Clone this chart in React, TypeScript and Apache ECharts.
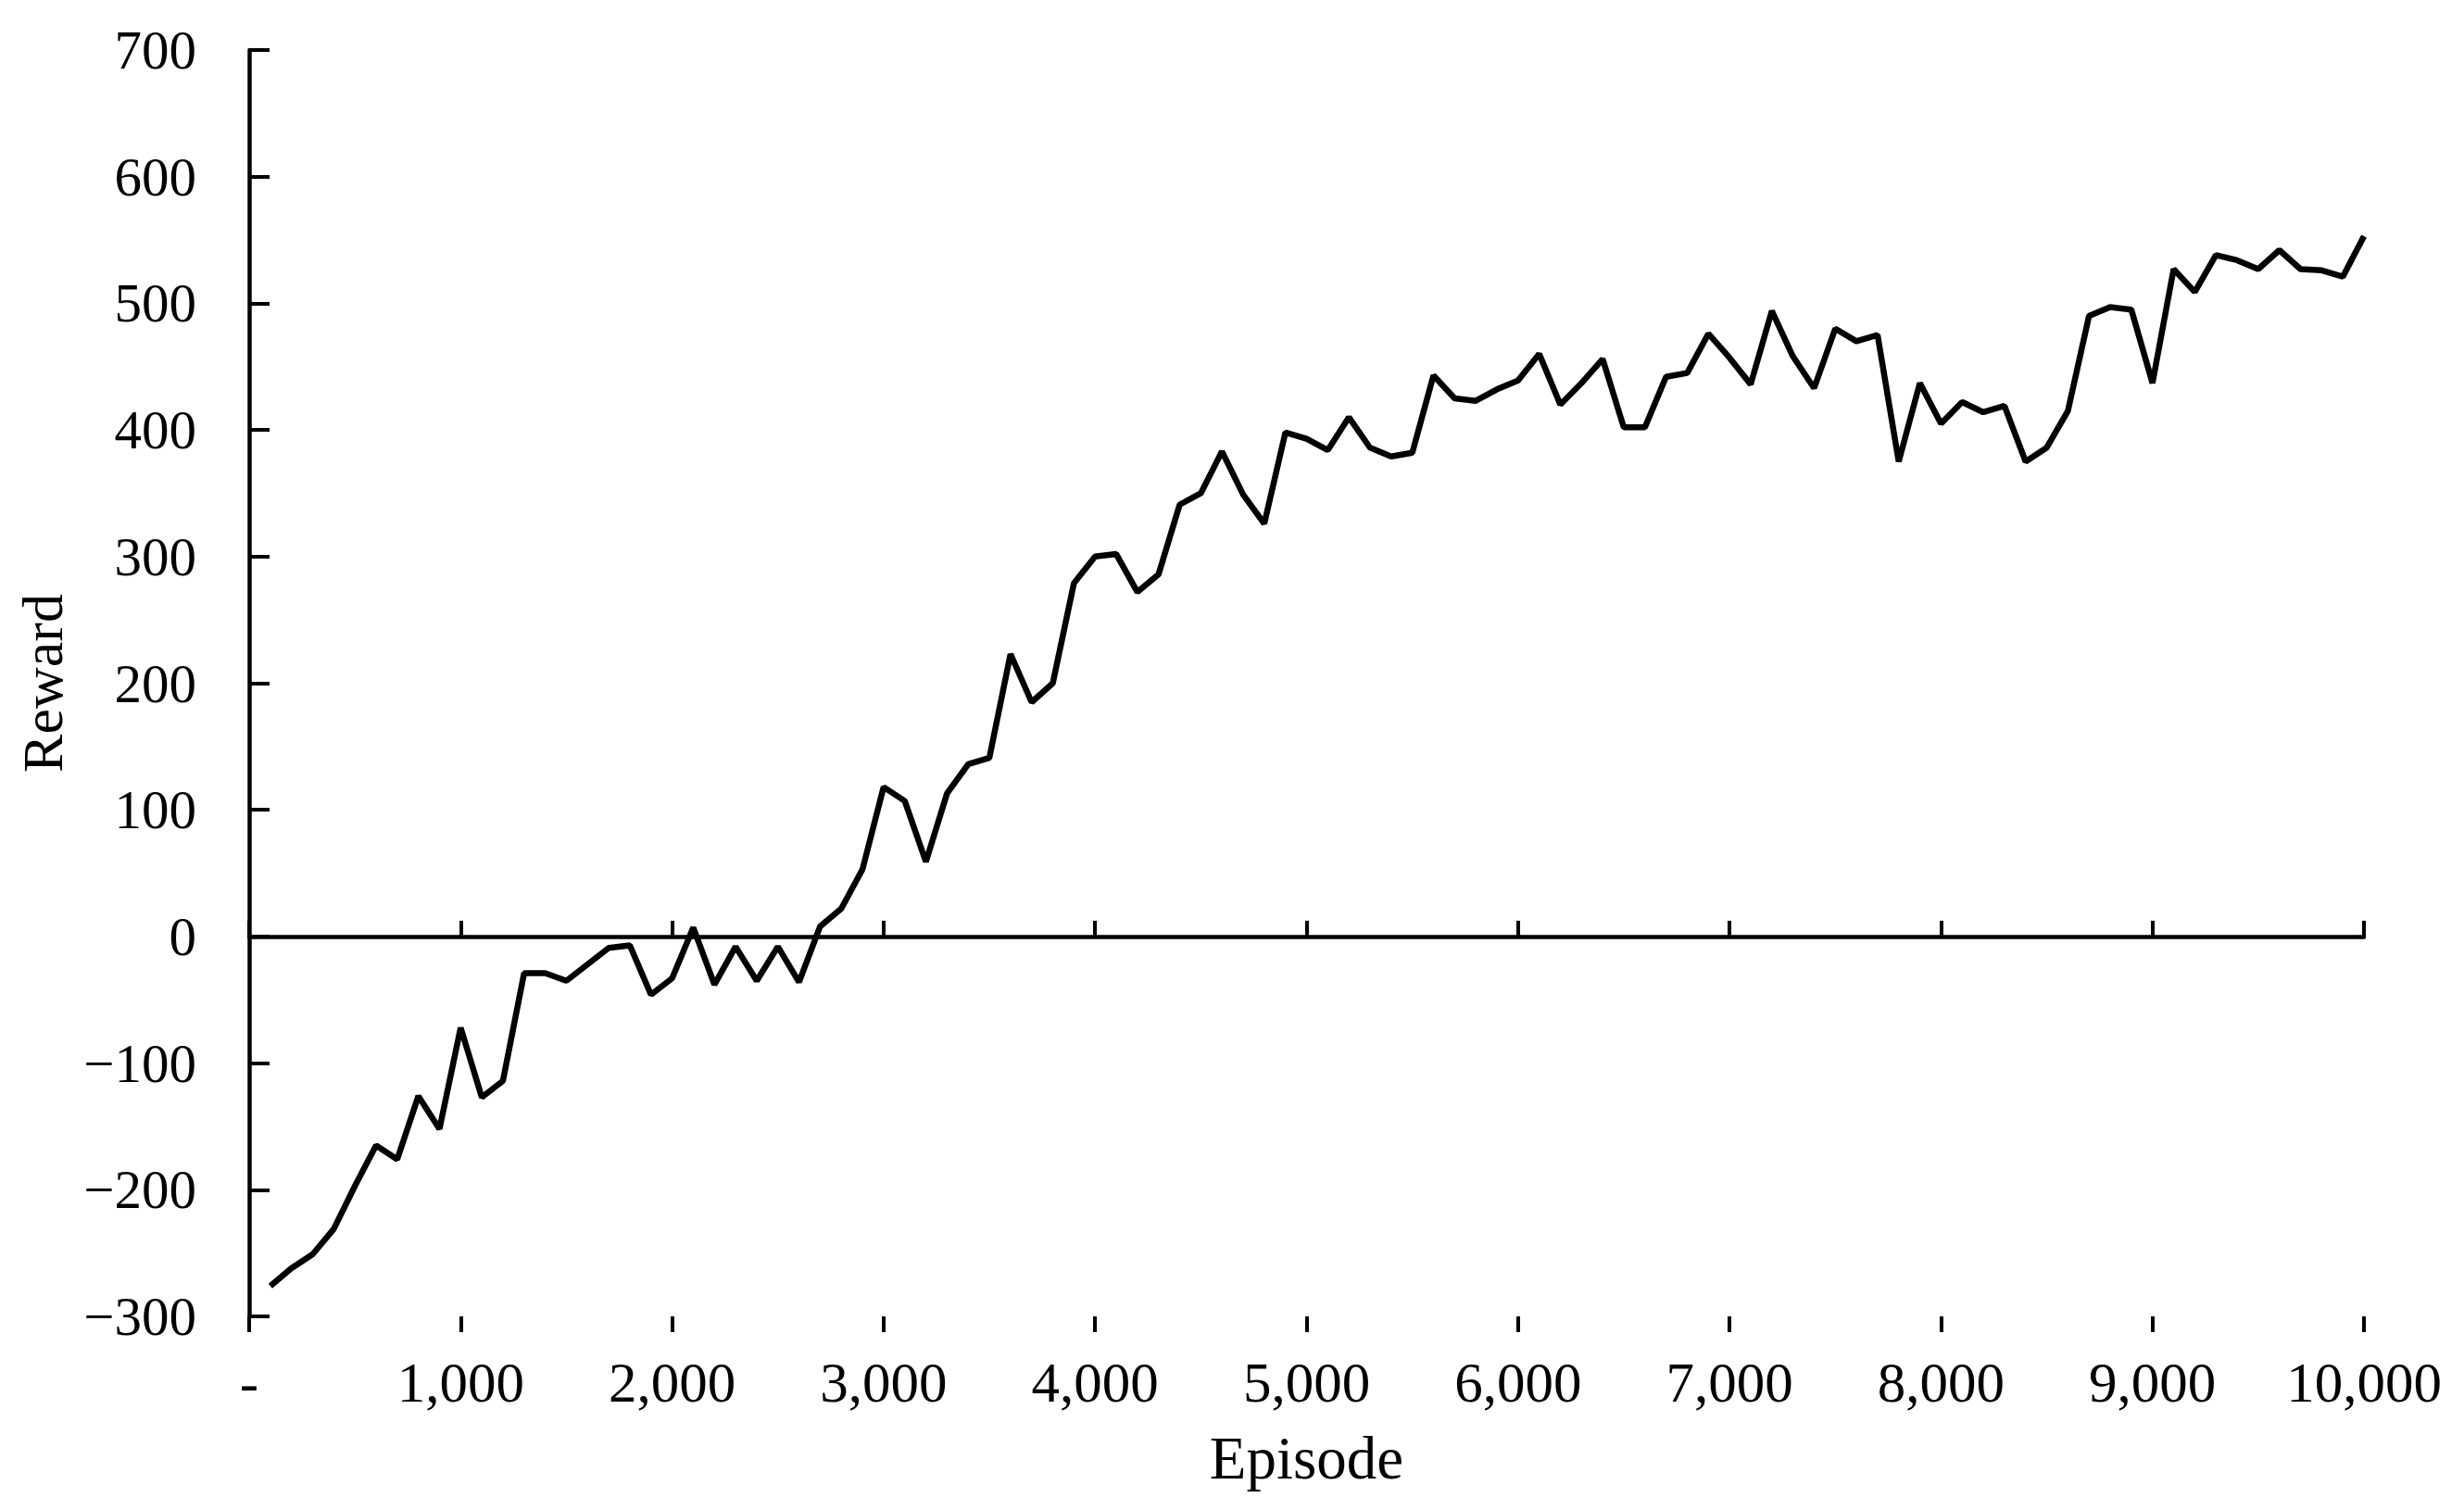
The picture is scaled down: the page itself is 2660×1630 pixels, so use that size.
import React, { useEffect, useRef } from "react";
import * as echarts from "echarts";

const episodes: number[] = Array.from({ length: 100 }, (_, i) => (i + 1) * 100);

const rewards: number[] = [
  -276, -262, -251, -231, -197, -165, -176, -126, -152, -72,
  -127, -114, -29, -29, -35, -22, -9, -7, -46, -33,
  7, -38, -8, -35, -8, -36, 8, 22, 53, 118,
  107, 59, 113, 136, 141, 223, 185, 200, 279, 300,
  302, 272, 286, 341, 350, 383, 349, 326, 398, 393,
  384, 410, 386, 379, 382, 443, 425, 423, 432, 439,
  460, 420, 437, 456, 402, 402, 442, 445, 476, 457,
  436, 494, 458, 433, 480, 470, 475, 375, 437, 405,
  422, 414, 419, 375, 386, 415, 490, 497, 495, 437,
  527, 509, 538, 534, 527, 542, 527, 526, 521, 553,
];

const xTitle = "Episode";
const yTitle = "Reward";
const xMin = 0;
const xMax = 10000;
const xStep = 1000;
const yMin = -300;
const yMax = 700;
const yStep = 100;

const FONT = '"Times New Roman", "Liberation Serif", serif';

const fmtX = (v: number) => (v === 0 ? "-" : v.toLocaleString("en-US"));
const fmtY = (v: number) => (v < 0 ? "\u2212" + Math.abs(v) : String(v));

export default function App() {
  const ref = useRef<HTMLDivElement>(null);
  useEffect(() => {
    if (!ref.current) return;
    const chart = echarts.init(ref.current, undefined, { renderer: "svg" });
    const baseX = {
      type: "value" as const,
      min: xMin,
      max: xMax,
      interval: xStep,
      position: "bottom" as const,
      splitLine: { show: false },
    };
    chart.setOption({
      animation: false,
      backgroundColor: "#ffffff",
      grid: { left: 269, right: 108, top: 54, bottom: 209, containLabel: false },
      xAxis: [
        {
          ...baseX,
          axisLine: { show: true, onZero: true, lineStyle: { color: "#000", width: 4.5 } },
          axisTick: { show: true, inside: true, length: 17, lineStyle: { color: "#000", width: 4 } },
          axisLabel: { show: false },
        },
        {
          ...baseX,
          axisLine: { show: false, onZero: true },
          axisTick: { show: true, inside: false, length: 17, lineStyle: { color: "#000", width: 4 } },
          axisLabel: { show: false },
        },
        {
          ...baseX,
          axisLine: { show: false, onZero: false },
          axisTick: { show: false },
          axisLabel: {
            show: true,
            color: "#000",
            fontFamily: FONT,
            fontSize: 61,
            margin: 41,
            formatter: fmtX,
          },
          name: xTitle,
          nameLocation: "middle",
          nameGap: 120,
          nameTextStyle: { color: "#000", fontFamily: FONT, fontSize: 65 },
        },
      ],
      yAxis: {
        type: "value",
        min: yMin,
        max: yMax,
        interval: yStep,
        position: "left",
        splitLine: { show: false },
        axisLine: { show: true, onZero: false, lineStyle: { color: "#000", width: 4.5 } },
        axisTick: { show: true, inside: true, length: 22, lineStyle: { color: "#000", width: 4 } },
        axisLabel: {
          color: "#000",
          fontFamily: FONT,
          fontSize: 59,
          margin: 57,
          formatter: fmtY,
        },
        name: yTitle,
        nameLocation: "middle",
        nameGap: 192,
        nameRotate: 90,
        nameTextStyle: { color: "#000", fontFamily: FONT, fontSize: 62 },
      },
      series: [
        {
          type: "line",
          xAxisIndex: 0,
          data: episodes.map((e, i) => [e, rewards[i]]),
          showSymbol: false,
          symbol: "none",
          lineStyle: { color: "#000", width: 6.5 },
          itemStyle: { color: "#000" },
        },
      ],
    });
    return () => chart.dispose();
  }, []);
  return (
    <div
      ref={ref}
      style={{ position: "fixed", left: 0, top: 0, width: 2660, height: 1630, background: "#fff" }}
    />
  );
}
